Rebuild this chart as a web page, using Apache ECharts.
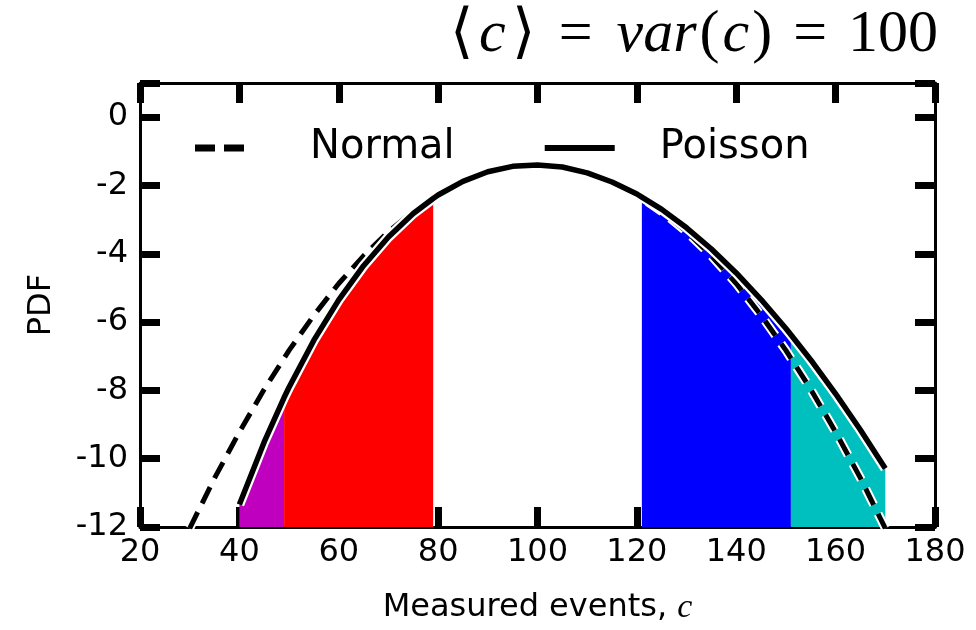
<!DOCTYPE html>
<html>
<head>
<meta charset="utf-8">
<script src="https://cdn.jsdelivr.net/npm/echarts@6/dist/echarts.min.js"></script>
<style>html,body{margin:0;padding:0;background:#fff}#c{width:976px;height:630px}</style>
</head>
<body>
<div id="c"></div>
<script>
// ---- data ----
const poissonX = [40,45,49,50,55,60,65,70,75,79,80,85,90,95,100,105,110,115,120,121,125,130,135,140,145,150,151,155,160,165,170];
const poissonY = [-11.34,-9.51,-8.21,-7.91,-6.53,-5.35,-4.35,-3.51,-2.82,-2.38,-2.28,-1.88,-1.60,-1.44,-1.40,-1.46,-1.63,-1.90,-2.25,-2.34,-2.70,-3.24,-3.86,-4.56,-5.34,-6.19,-6.37,-7.11,-8.10,-9.16,-10.29];
const normalX = [30,35,40,45,50,55,60,65,70,75,80,85,90,95,100,105,110,115,120,125,130,135,140,145,150,155,160,165,170];
const normalY = [-12.04,-10.57,-9.22,-7.97,-6.83,-5.80,-4.87,-4.06,-3.35,-2.76,-2.27,-1.89,-1.62,-1.45,-1.40,-1.45,-1.62,-1.89,-2.27,-2.76,-3.35,-4.06,-4.87,-5.80,-6.83,-7.97,-9.22,-10.57,-12.04];
const bandRanges = [[40,49],[49,79],[121,151],[151,170]];
const xTicks = [20,40,60,80,100,120,140,160,180];
const yTicks = [0,-2,-4,-6,-8,-10,-12];
const seriesNames = ['Normal','Poisson'];
// [text, style] pieces of the title: a = upright, i = italic, e = relation sign
const titlePieces = [['⟨','b'],['c','i'],['⟩','b'],['=','e'],['var','i'],['(','a'],['c','i'],[')','a'],['=','e'],['100','a']];

// ---- styles ----
const bandColors = ['#bf00bf','#ff0000','#0000ff','#00bfbf'];
const FONT = 'DejaVu Sans';
const SERIF = 'Liberation Serif';
const TS = 60;
const legendIcons = [
  'path://M0,0h20v7h-20z M29,0h20v7h-20z M69.9,3.4h0.1v0.2h-0.1z',
  'path://M0,0h70v6h-70z'
];

const pairs = (xs, ys) => xs.map((x, i) => [x, ys[i]]);
const poissonData = pairs(poissonX, poissonY);
const normalData = pairs(normalX, normalY);

const bandSeries = bandRanges.map((r, i) => ({
  type: 'line',
  name: 'band' + i,
  data: poissonData.filter(p => p[0] >= r[0] && p[0] <= r[1]),
  symbol: 'none',
  lineStyle: { width: 0 },
  areaStyle: { color: bandColors[i], opacity: 1, origin: 'start' },
  z: 1,
  silent: true
}));

const dashPattern = [18, 10];
const series = [
  ...bandSeries,
  { type: 'line', name: 'normalHalo', data: normalData, symbol: 'none',
    lineStyle: { color: '#fff', width: 9, type: dashPattern, cap: 'butt' }, z: 3, silent: true },
  { type: 'line', name: seriesNames[0], data: normalData, symbol: 'none',
    itemStyle: { color: '#000' },
    lineStyle: { color: '#000', width: 5, type: dashPattern, cap: 'butt' }, z: 4 },
  { type: 'line', name: 'poissonHalo', data: poissonData, symbol: 'none',
    lineStyle: { color: '#fff', width: 10 }, z: 5, silent: true },
  { type: 'line', name: seriesNames[1], data: poissonData, symbol: 'none',
    itemStyle: { color: '#000' },
    lineStyle: { color: '#000', width: 5.5 }, z: 6 }
];

const axisLineStyle = { color: '#000', width: 3 };
const tickStyle = { show: true, inside: true, length: 20, lineStyle: { color: '#000', width: 7 } };

const chart = echarts.init(document.getElementById('c'), null, { renderer: 'canvas' });
chart.setOption({
  animation: false,
  backgroundColor: '#fff',
  title: {
    text: titlePieces.map(p => '{' + p[1] + '|' + p[0] + '}').join(''),
    right: 36, top: 0,
    textStyle: {
      fontWeight: 'normal',
      rich: {
        a: { fontFamily: SERIF, fontWeight: 'normal', fontSize: TS, color: '#000' },
        b: { fontFamily: SERIF, fontWeight: 'normal', fontSize: TS, color: '#000', padding: [0, 3] },
        i: { fontFamily: SERIF, fontWeight: 'normal', fontStyle: 'italic', fontSize: TS, color: '#000', padding: [0, 3] },
        e: { fontFamily: SERIF, fontWeight: 'normal', fontSize: TS, color: '#000', padding: [0, 21] }
      }
    }
  },
  legend: {
    data: seriesNames.map((n, i) => ({ name: n, icon: legendIcons[i], itemStyle: { color: '#000' } })),
    left: 190, top: 123,
    itemWidth: 70, itemHeight: 7, itemGap: 90,
    textStyle: { fontFamily: FONT, fontSize: 40, color: '#000', padding: [0, 0, 0, 40] }
  },
  grid: { left: 140, right: 41, top: 83, bottom: 102 },
  xAxis: [{
    type: 'value', min: xTicks[0], max: xTicks[xTicks.length - 1], interval: 20,
    axisLine: { lineStyle: axisLineStyle, onZero: false },
    axisTick: tickStyle, splitLine: { show: false },
    axisLabel: { fontFamily: FONT, fontSize: 32, color: '#000', margin: 10 },
    name: '{t|Measured events, }{i|c}', nameLocation: 'middle', nameGap: 64,
    nameTextStyle: { rich: {
      t: { fontFamily: FONT, fontSize: 32, color: '#000' },
      i: { fontFamily: SERIF, fontStyle: 'italic', fontSize: 34, color: '#000' } } }
  }, {
    type: 'value', position: 'top', min: xTicks[0], max: xTicks[xTicks.length - 1], interval: 20,
    axisLine: { lineStyle: axisLineStyle, onZero: false },
    axisTick: tickStyle, splitLine: { show: false }, axisLabel: { show: false }
  }],
  yAxis: [{
    type: 'value', min: yTicks[yTicks.length - 1], max: 1, interval: 2,
    axisLine: { lineStyle: axisLineStyle, onZero: false },
    axisTick: tickStyle, splitLine: { show: false },
    axisLabel: { fontFamily: FONT, fontSize: 32, color: '#000', margin: 12,
      formatter: v => (v > 0 ? '' : String(v)) },
    name: 'PDF', nameLocation: 'middle', nameGap: 82,
    nameTextStyle: { fontFamily: FONT, fontSize: 32, color: '#000' }
  }, {
    type: 'value', position: 'right', min: yTicks[yTicks.length - 1], max: 1, interval: 2,
    axisLine: { lineStyle: axisLineStyle, onZero: false },
    axisTick: tickStyle, splitLine: { show: false }, axisLabel: { show: false }
  }],
  series: series
});
</script>
</body>
</html>
